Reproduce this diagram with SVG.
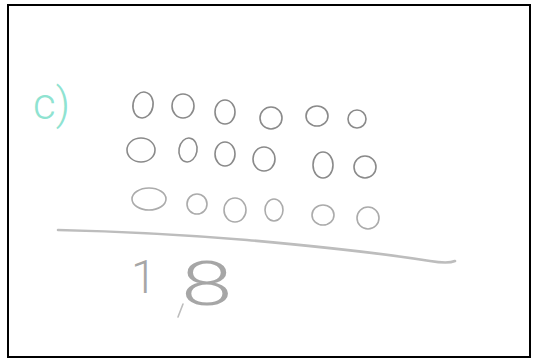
<svg xmlns="http://www.w3.org/2000/svg" width="538" height="363" viewBox="0 0 538 363">
<style>
.dot{fill:none;stroke:#8a8a8a;stroke-width:1.6}
.r3{stroke:#ababab}
.pen{fill:none;stroke:#bdbdbd;stroke-width:2.6;stroke-linecap:round}
.num{font-family:Roboto,"Liberation Sans",Arial,sans-serif;font-weight:300;fill:#a6a6a6}
.lbl{font-family:Roboto,"Liberation Sans",Arial,sans-serif;font-weight:300;font-size:44px;fill:#8fe3d1}
</style>
<rect x="8" y="5" width="522" height="352" fill="#fff" stroke="#000" stroke-width="2"/>
<g id="label"><text class="lbl" x="33" y="119">c)</text></g>
<g id="row1">
<ellipse class="dot" cx="143" cy="105" rx="10" ry="13" transform="rotate(10 143 105)"/>
<ellipse class="dot" cx="183" cy="106" rx="11" ry="12"/>
<ellipse class="dot" cx="225" cy="112" rx="10" ry="12"/>
<ellipse class="dot" cx="271" cy="118" rx="11" ry="11"/>
<ellipse class="dot" cx="317" cy="116" rx="11" ry="10"/>
<ellipse class="dot" cx="357" cy="119" rx="9" ry="9"/>
</g>
<g id="row2">
<ellipse class="dot" cx="141" cy="150" rx="14" ry="12"/>
<ellipse class="dot" cx="188" cy="150" rx="9" ry="12" transform="rotate(10 188 150)"/>
<ellipse class="dot" cx="225" cy="154" rx="10" ry="12"/>
<ellipse class="dot" cx="264" cy="159" rx="11" ry="12"/>
<ellipse class="dot" cx="323" cy="165" rx="10" ry="13"/>
<ellipse class="dot" cx="365" cy="167" rx="11" ry="11"/>
</g>
<g id="row3">
<ellipse class="dot r3" cx="149" cy="199" rx="17" ry="11"/>
<ellipse class="dot r3" cx="197" cy="204" rx="10" ry="10"/>
<ellipse class="dot r3" cx="235" cy="210" rx="11" ry="12"/>
<ellipse class="dot r3" cx="274" cy="210" rx="9" ry="11"/>
<ellipse class="dot r3" cx="323" cy="215" rx="11" ry="10"/>
<ellipse class="dot r3" cx="368" cy="218" rx="11" ry="11"/>
</g>
<g id="connectors">
<path class="pen" d="M58 230 Q150 232 247 240 Q360 250 430 261 Q448 264 455 261"/>
</g>
<g id="answer">
<text class="num" x="131" y="293" font-size="46">1</text>
<text class="num" transform="translate(181 305) scale(1.5 1)" x="0" y="0" font-size="62">8</text>
<path class="pen" style="stroke-width:1.6" d="M183 304 L178 317"/>
</g>
</svg>
